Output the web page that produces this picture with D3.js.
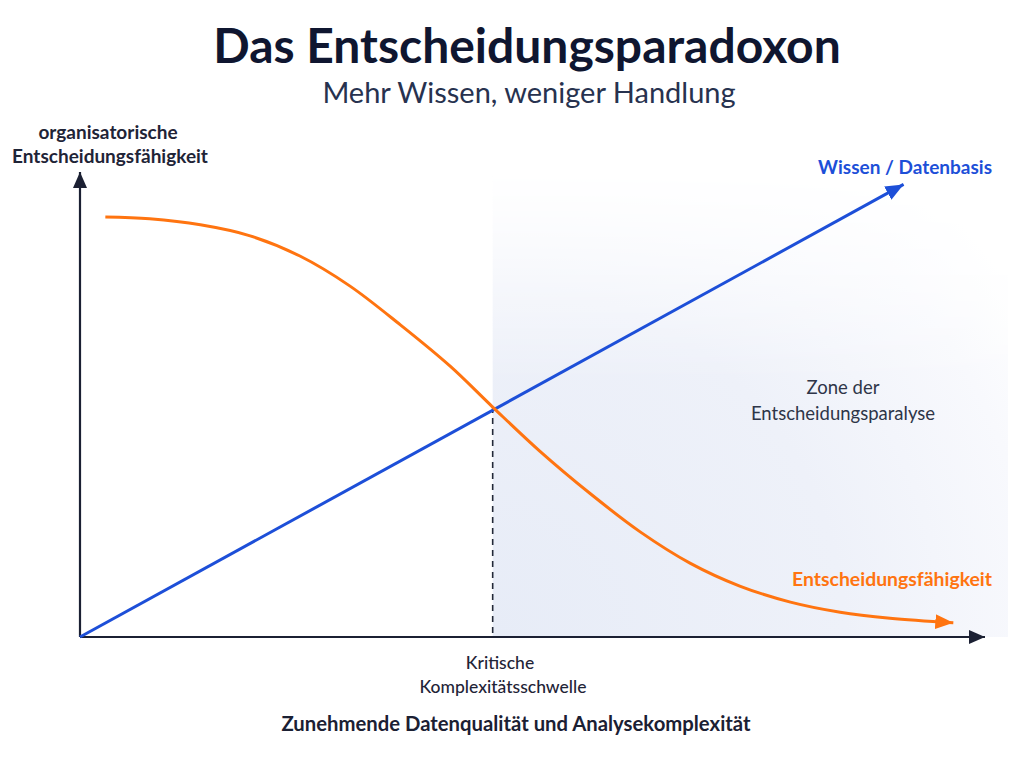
<!DOCTYPE html>
<html>
<head>
<meta charset="utf-8">
<script src="https://cdn.jsdelivr.net/npm/d3@7"></script>
<style>
  html, body { margin: 0; padding: 0; background: #ffffff; }
  svg { display: block; font-family: Lato, "Noto Sans", sans-serif; }
</style>
</head>
<body>
<svg id="chart" width="1024" height="768"></svg>
<script>
// ---- data ----
const titleText = "Das Entscheidungsparadoxon";
const subtitleText = "Mehr Wissen, weniger Handlung";
const yAxisLabel = ["organisatorische", "Entscheidungsfähigkeit"];
const xAxisLabel = "Zunehmende Datenqualität und Analysekomplexität";
const thresholdLabel = ["Kritische", "Komplexitätsschwelle"];
const zoneLabel = ["Zone der", "Entscheidungsparalyse"];
const knowledgeName = "Wissen / Datenbasis";
const capabilityName = "Entscheidungsfähigkeit";

// knowledge line (x, y) in 0..100 units
const knowledgeX = [0, 91];
const knowledgeY = [0, 98.6];
// decision capability curve
const capabilityX = [2.8, 7.7, 13.3, 18.8, 24.3, 29.8, 35.4, 40.9, 45.6, 50.8, 56.4, 61.9, 67.4, 72.9, 78.5, 84.0, 89.5, 96.5];
const capabilityY = [91.5, 91.1, 89.8, 87.4, 83.0, 76.5, 68.0, 59.0, 50.1, 40.5, 31.2, 22.9, 16.1, 11.1, 7.6, 5.4, 4.1, 3.1];
const thresholdX = 45.6;
const thresholdY = 50.1;

// ---- layout ----
const svg = d3.select("#chart");
const x = d3.scaleLinear().domain([0, 100]).range([80, 985]);
const y = d3.scaleLinear().domain([0, 100]).range([637, 178]);

const BLUE = "#1d4fd8";
const ORANGE = "#ff7410";
const AXIS = "#1b2033";

const defs = svg.append("defs");
function marker(id, color, w, h) {
  defs.append("marker")
    .attr("id", id).attr("viewBox", `0 0 ${w} ${h}`)
    .attr("refX", w).attr("refY", h / 2)
    .attr("markerWidth", w).attr("markerHeight", h)
    .attr("markerUnits", "userSpaceOnUse")
    .attr("orient", "auto")
    .append("path").attr("d", `M0,0 L${w},${h/2} L0,${h} Z`).attr("fill", color);
}
marker("arrAxis", AXIS, 16, 14);
marker("arrBlue", BLUE, 18, 15);
marker("arrOrange", ORANGE, 18, 15);

const grad = defs.append("radialGradient").attr("id", "zoneGrad")
  .attr("gradientUnits", "userSpaceOnUse")
  .attr("cx", x(thresholdX)).attr("cy", y(0)).attr("r", 640);
grad.append("stop").attr("offset", "0%").attr("stop-color", "#e7ecf7");
grad.append("stop").attr("offset", "55%").attr("stop-color", "#eef1f9");
grad.append("stop").attr("offset", "85%").attr("stop-color", "#f8f9fd");
grad.append("stop").attr("offset", "100%").attr("stop-color", "#ffffff");

const fade = defs.append("linearGradient").attr("id", "fadeGrad")
  .attr("gradientUnits", "userSpaceOnUse")
  .attr("x1", 0).attr("y1", 170).attr("x2", 0).attr("y2", 380);
fade.append("stop").attr("offset", "0%").attr("stop-color", "#fff").attr("stop-opacity", 0);
fade.append("stop").attr("offset", "100%").attr("stop-color", "#fff").attr("stop-opacity", 1);
defs.append("mask").attr("id", "zoneMask")
  .attr("maskUnits", "userSpaceOnUse").attr("x", 0).attr("y", 0).attr("width", 1024).attr("height", 768)
  .append("rect").attr("x", 0).attr("y", 0).attr("width", 1024).attr("height", 768)
  .attr("fill", "url(#fadeGrad)");

// shaded paralysis zone
svg.append("rect")
  .attr("x", x(thresholdX)).attr("y", 170)
  .attr("width", 1008 - x(thresholdX)).attr("height", y(0) - 170)
  .attr("fill", "url(#zoneGrad)")
  .attr("mask", "url(#zoneMask)");

// axes
svg.append("line").attr("x1", x(0)).attr("y1", y(0)).attr("x2", x(0)).attr("y2", y(100) - 6)
  .attr("stroke", AXIS).attr("stroke-width", 2.2).attr("marker-end", "url(#arrAxis)");
svg.append("line").attr("x1", x(0)).attr("y1", y(0)).attr("x2", x(100)).attr("y2", y(0))
  .attr("stroke", AXIS).attr("stroke-width", 2.2).attr("marker-end", "url(#arrAxis)");

// threshold dashed line
svg.append("line")
  .attr("x1", x(thresholdX)).attr("y1", y(thresholdY))
  .attr("x2", x(thresholdX)).attr("y2", y(0))
  .attr("stroke", "#222838").attr("stroke-width", 1.6).attr("stroke-dasharray", "6,5");

// knowledge line
const lineGen = d3.line().x(d => x(d[0])).y(d => y(d[1]));
svg.append("path")
  .datum(knowledgeX.map((v, i) => [v, knowledgeY[i]]))
  .attr("d", lineGen).attr("fill", "none")
  .attr("stroke", BLUE).attr("stroke-width", 3)
  .attr("marker-end", "url(#arrBlue)");

// capability curve
const curveGen = d3.line().x(d => x(d[0])).y(d => y(d[1])).curve(d3.curveCatmullRom.alpha(0.5));
svg.append("path")
  .datum(capabilityX.map((v, i) => [v, capabilityY[i]]))
  .attr("d", curveGen).attr("fill", "none")
  .attr("stroke", ORANGE).attr("stroke-width", 3)
  .attr("marker-end", "url(#arrOrange)");

// texts
function txt(s, px, py, opts) {
  return svg.append("text").attr("x", px).attr("y", py).text(s)
    .attr("text-anchor", opts.anchor || "middle")
    .attr("font-size", opts.size).attr("font-weight", opts.weight || 400)
    .attr("fill", opts.color || "#1b2033");
}
txt(titleText, 527, 63, { size: 48, weight: 700, color: "#0f1630" });
txt(subtitleText, 529, 103, { size: 29, weight: 400, color: "#27324f" });

txt(yAxisLabel[0], 108, 139, { size: 19, weight: 700, color: "#1f2437" });
txt(yAxisLabel[1], 110, 163, { size: 19, weight: 700, color: "#1f2437" });

txt(knowledgeName, 992, 174, { size: 19, weight: 700, color: BLUE, anchor: "end" });
txt(capabilityName, 992, 586, { size: 19.4, weight: 700, color: ORANGE, anchor: "end" });

txt(zoneLabel[0], 843, 394, { size: 18.5, weight: 400, color: "#2e3548" });
txt(zoneLabel[1], 843, 420, { size: 18.5, weight: 400, color: "#2e3548" });

txt(thresholdLabel[0], 500, 669, { size: 17.5, weight: 500, color: "#1f2437" });
txt(thresholdLabel[1], 503, 693, { size: 17.5, weight: 500, color: "#1f2437" });

txt(xAxisLabel, 516, 731, { size: 20.3, weight: 700, color: "#1b2033" });
</script>
</body>
</html>
